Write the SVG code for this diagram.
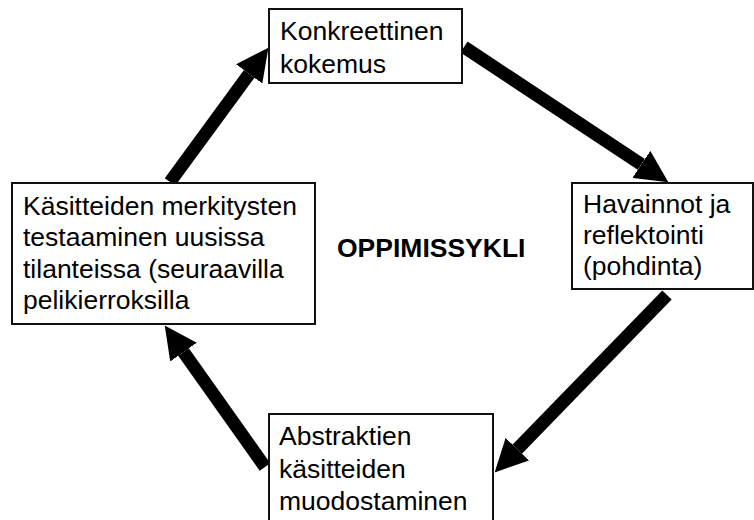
<svg xmlns="http://www.w3.org/2000/svg" width="754" height="520" viewBox="0 0 754 520">
  <style>
    .box { fill: #ffffff; stroke: #111111; stroke-width: 2; }
    .lbl { font-family: "Liberation Sans", Arial, sans-serif; font-size: 26.5px; fill: #000000; }
    .title { font-family: "Liberation Sans", Arial, sans-serif; font-size: 26.5px; font-weight: bold; fill: #000000; }
    .arr { stroke: #000000; stroke-width: 13; fill: none; marker-end: url(#head); }
  </style>
  <defs>
    <marker id="head" viewBox="0 0 10 10" refX="0" refY="5" markerWidth="2.5" markerHeight="2.5" markerUnits="strokeWidth" orient="auto">
      <path d="M0,0 L10,5 L0,10 Z" fill="#000000"/>
    </marker>
  </defs>
  <rect width="754" height="520" fill="#ffffff"/>

  <g id="connectors">
    <line class="arr" x1="170" y1="182" x2="249.2" y2="73.9"/>
    <line class="arr" x1="464" y1="47" x2="641.3" y2="164.4"/>
    <line class="arr" x1="667" y1="295" x2="517.3" y2="449.1"/>
    <line class="arr" x1="265" y1="467" x2="183.5" y2="352.1"/>
  </g>

  <g id="node-konkreettinen">
    <rect class="box" x="269" y="9" width="193" height="74"/>
    <text class="lbl" x="280" y="40">Konkreettinen</text>
    <text class="lbl" x="280" y="73">kokemus</text>
  </g>

  <g id="node-havainnot">
    <rect class="box" x="572" y="183" width="181" height="106"/>
    <text class="lbl" x="583" y="213">Havainnot ja</text>
    <text class="lbl" x="583" y="244">reflektointi</text>
    <text class="lbl" x="583" y="275">(pohdinta)</text>
  </g>

  <g id="node-abstraktien">
    <rect class="box" x="269" y="414" width="224" height="120"/>
    <text class="lbl" x="279" y="445">Abstraktien</text>
    <text class="lbl" x="279" y="478">käsitteiden</text>
    <text class="lbl" x="279" y="510">muodostaminen</text>
  </g>

  <g id="node-kasitteiden">
    <rect class="box" x="12" y="183" width="303" height="141"/>
    <text class="lbl" x="23" y="215">Käsitteiden merkitysten</text>
    <text class="lbl" x="23" y="246">testaaminen uusissa</text>
    <text class="lbl" x="23" y="278">tilanteissa (seuraavilla</text>
    <text class="lbl" x="23" y="309">pelikierroksilla</text>
  </g>

  <g id="title">
    <text class="title" x="337" y="257">OPPIMISSYKLI</text>
  </g>
</svg>
